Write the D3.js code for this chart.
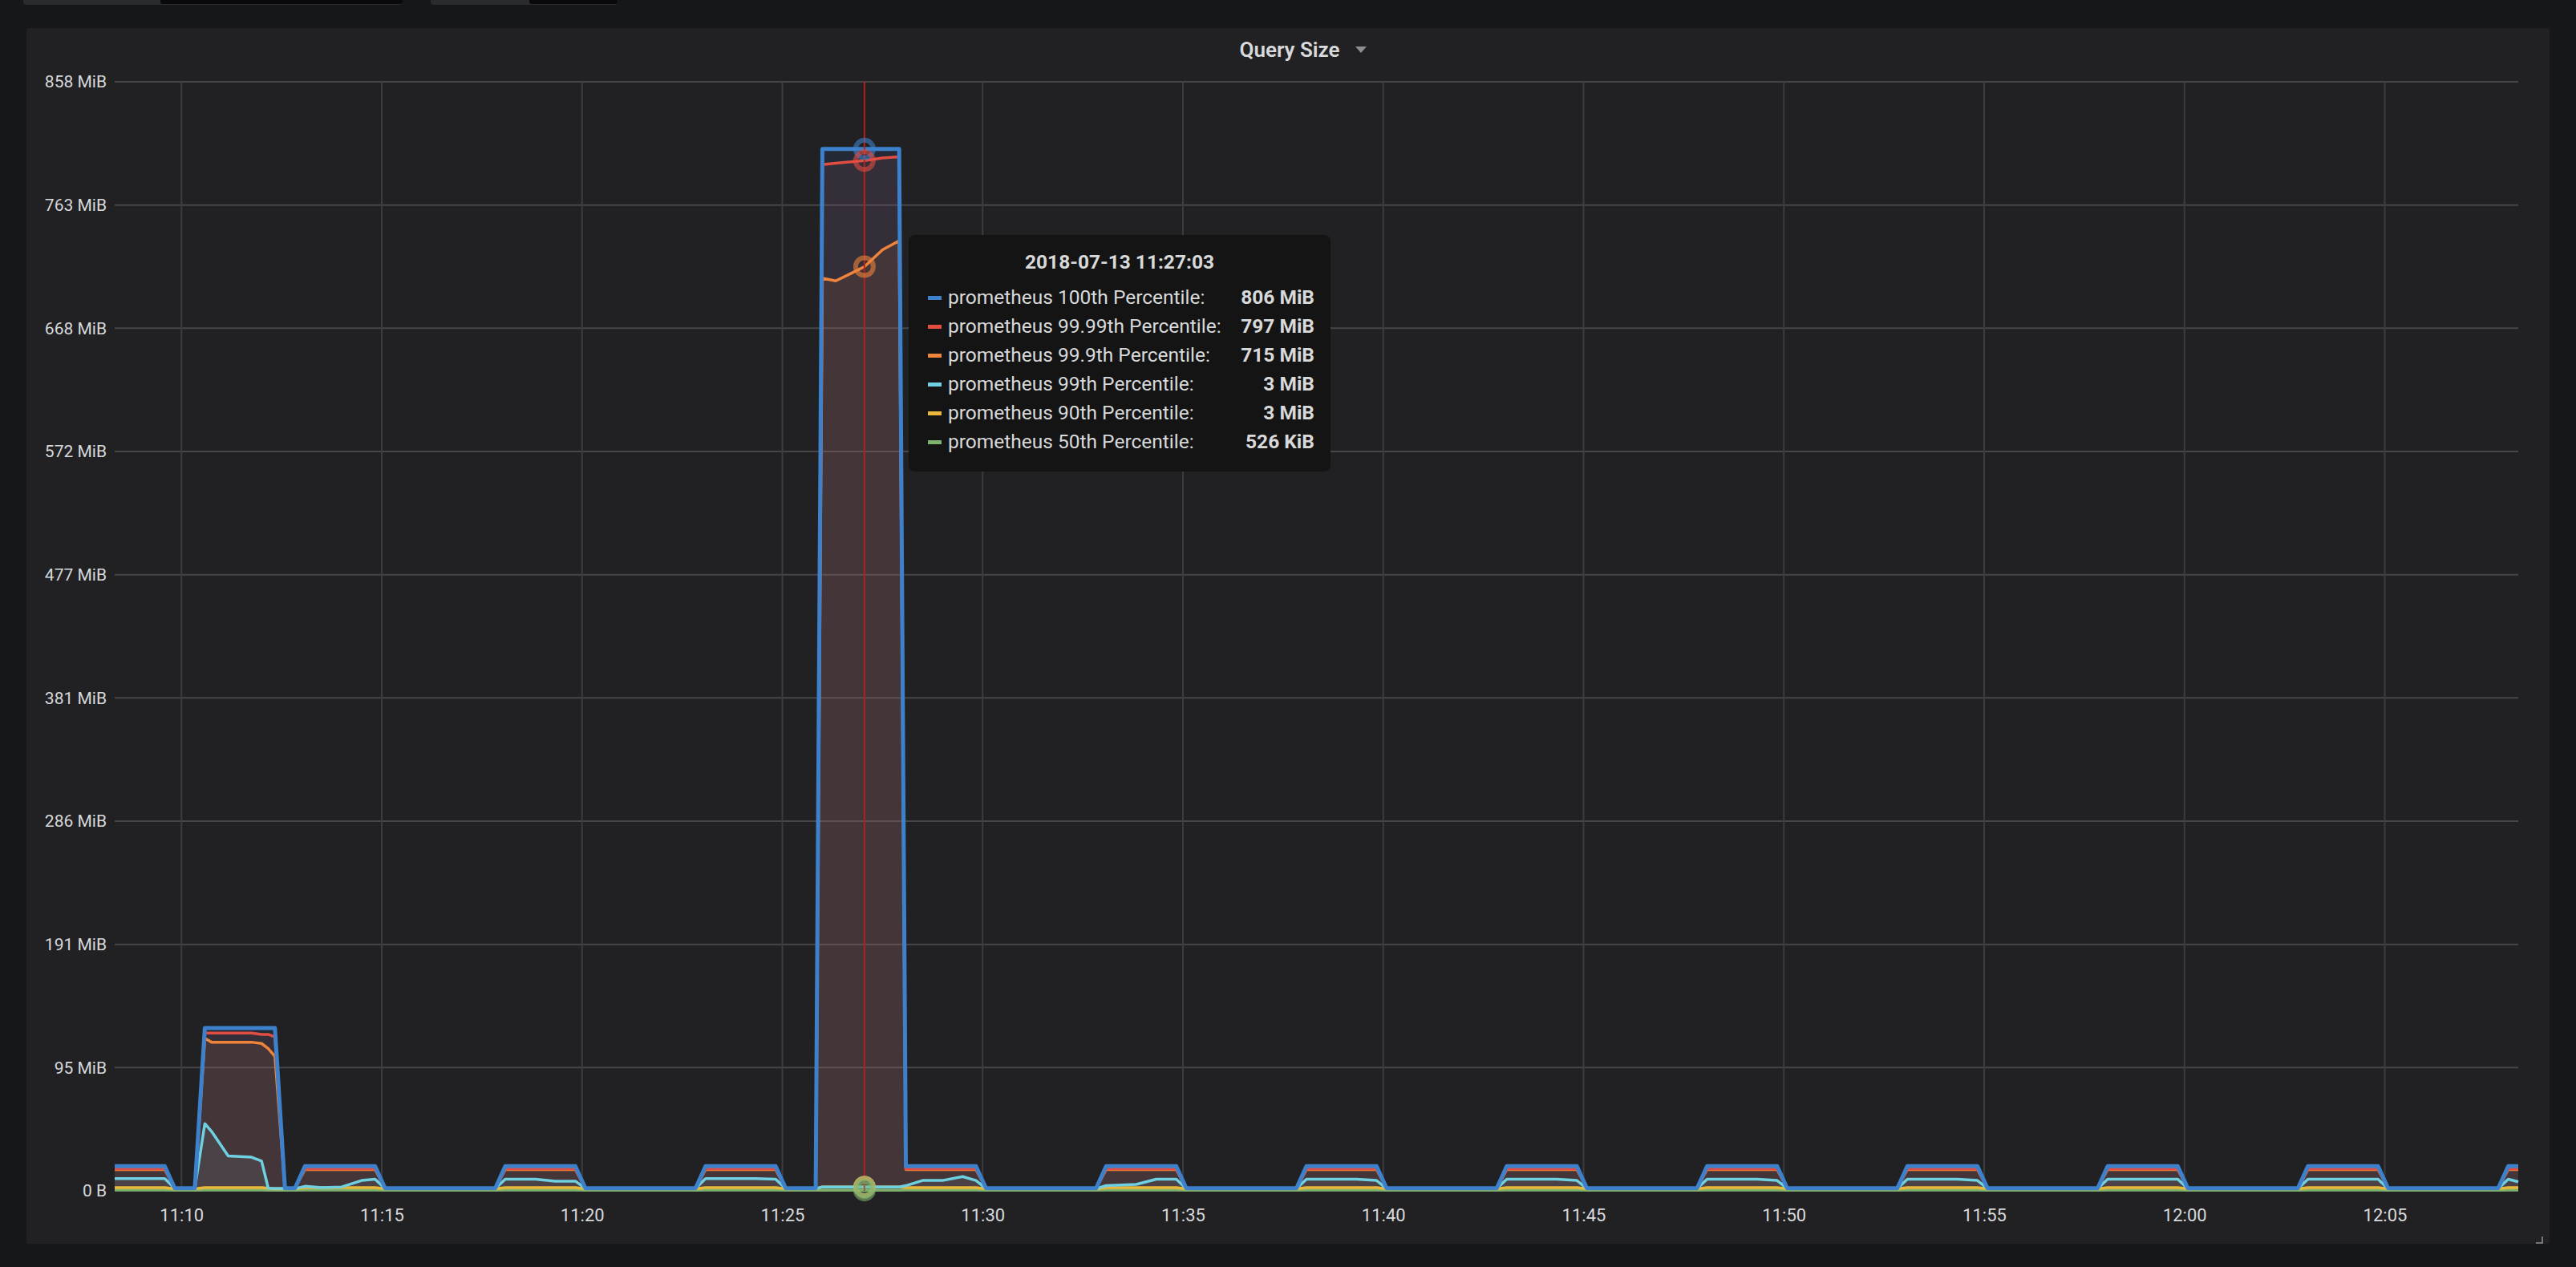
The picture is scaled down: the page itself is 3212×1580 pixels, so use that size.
<!DOCTYPE html>
<html>
<head>
<meta charset="utf-8">
<script src="https://cdn.jsdelivr.net/npm/d3@7"></script>
<style>
  body { margin: 0; background: #161719; font-family: Roboto, "Open Sans", sans-serif; }
  svg { display: block; }
</style>
</head>
<body>
<svg id="chart"></svg>
<script>
// sample times (shared by all series)
const times = [
  "11:08:20","11:09:35","11:09:50","11:10:20","11:10:35","11:10:45","11:11:10","11:11:45","11:12:00","11:12:10",
  "11:12:20","11:12:35","11:12:50","11:13:05","11:13:30","11:14:00","11:14:30","11:14:50","11:15:05",
  "11:17:50","11:18:05","11:18:50","11:19:20","11:19:50","11:20:05",
  "11:22:50","11:23:05","11:23:50","11:24:20","11:24:50","11:25:05",
  "11:25:50","11:26:00","11:26:20","11:26:40","11:27:03","11:27:30","11:27:55","11:28:05",
  "11:28:30","11:29:00","11:29:30","11:29:50","11:30:05",
  "11:32:50","11:33:05","11:33:50","11:34:20","11:34:50","11:35:05",
  "11:37:50","11:38:05","11:38:50","11:39:20","11:39:50","11:40:05",
  "11:42:50","11:43:05","11:43:50","11:44:20","11:44:50","11:45:05",
  "11:47:50","11:48:05","11:48:50","11:49:20","11:49:50","11:50:05",
  "11:52:50","11:53:05","11:53:50","11:54:20","11:54:50","11:55:05",
  "11:57:50","11:58:05","11:58:50","11:59:20","11:59:50","12:00:05",
  "12:02:50","12:03:05","12:03:50","12:04:20","12:04:50","12:05:05",
  "12:07:50","12:08:05","12:08:20"
];

// values in MiB
const p100 = [
  19,19,2,2,126,126,126,126,126,126,126,2,2,19,19,19,19,19,2,
  2,19,19,19,19,2,
  2,19,19,19,19,2,
  2,806,806,806,806,806,806,19,
  19,19,19,19,2,
  2,19,19,19,19,2, 2,19,19,19,19,2, 2,19,19,19,19,2, 2,19,19,19,19,2,
  2,19,19,19,19,2, 2,19,19,19,19,2, 2,19,19,19,19,2,
  2,19,19
];
const p9999 = [
  17,17,2,2,122,122,122,122,121,121,119,2,2,17,17,17,17,17,2,
  2,17,17,17,17,2,
  2,17,17,17,17,2,
  2,794,795,796,797,799,800,17,
  17,17,17,17,2,
  2,17,17,17,17,2, 2,17,17,17,17,2, 2,17,17,17,17,2, 2,17,17,17,17,2,
  2,17,17,17,17,2, 2,17,17,17,17,2, 2,17,17,17,17,2,
  2,17,17
];
const p999 = [
  16.5,16.5,2,2,118,115,115,115,114,110,104,2,2,16.5,16.5,16.5,16.5,16.5,2,
  2,16.5,16.5,16.5,16.5,2,
  2,16.5,16.5,16.5,16.5,2,
  2,706,704,709,715,728,735,16.5,
  16.5,16.5,16.5,16.5,2,
  2,16.5,16.5,16.5,16.5,2, 2,16.5,16.5,16.5,16.5,2, 2,16.5,16.5,16.5,16.5,2, 2,16.5,16.5,16.5,16.5,2,
  2,16.5,16.5,16.5,16.5,2, 2,16.5,16.5,16.5,16.5,2, 2,16.5,16.5,16.5,16.5,2,
  2,16.5,16.5
];
const p99 = [
  9.5,9.5,1.8,1.8,52,46,27,26,23,2,1.8,1.8,1.8,3.5,2.5,3,8,9,1.8,
  1.8,9,9,7.5,7.5,1.8,
  1.8,9.5,9.5,9.5,9,1.8,
  1.8,3,3,3,3,3,3,4,
  8,8,11,8,1.8,
  1.8,4,5,9,9,1.8, 1.8,9,9,9,8,1.8, 1.8,9,9,9,8,1.8, 1.8,9,9,9,8,1.8,
  1.8,9,9,9,8,1.8, 1.8,9,9,9,9,1.8, 1.8,9,9,9,9,1.8,
  1.8,9,7
];
const p90 = [
  2.5,2.5,1.5,1.5,2.5,2.5,2.5,2.5,2.5,2,1.5,1.5,1.5,2.5,2.5,2.5,2.5,2.5,1.5,
  1.5,2.5,2.5,2.5,2.5,1.5,
  1.5,2.5,2.5,2.5,2.5,1.5,
  1.5,3,3,3,3,3,3,2.5,
  2.5,2.5,2.5,2.5,1.5,
  1.5,2.5,2.5,2.5,2.5,1.5, 1.5,2.5,2.5,2.5,2.5,1.5, 1.5,2.5,2.5,2.5,2.5,1.5, 1.5,2.5,2.5,2.5,2.5,1.5,
  1.5,2.5,2.5,2.5,2.5,1.5, 1.5,2.5,2.5,2.5,2.5,1.5, 1.5,2.5,2.5,2.5,2.5,1.5,
  1.5,2.5,2.5
];
const p50 = [
  0.6,0.6,0.5,0.5,0.6,0.6,0.6,0.6,0.6,0.5,0.5,0.5,0.5,0.6,0.6,0.6,0.6,0.6,0.5,
  0.5,0.6,0.6,0.6,0.6,0.5,
  0.5,0.6,0.6,0.6,0.6,0.5,
  0.5,0.51,0.51,0.51,0.51,0.51,0.51,0.6,
  0.6,0.6,0.6,0.6,0.5,
  0.5,0.6,0.6,0.6,0.6,0.5, 0.5,0.6,0.6,0.6,0.6,0.5, 0.5,0.6,0.6,0.6,0.6,0.5, 0.5,0.6,0.6,0.6,0.6,0.5,
  0.5,0.6,0.6,0.6,0.6,0.5, 0.5,0.6,0.6,0.6,0.6,0.5, 0.5,0.6,0.6,0.6,0.6,0.5,
  0.5,0.6,0.6
];

const seriesNames = ["prometheus 100th Percentile:", "prometheus 99.99th Percentile:", "prometheus 99.9th Percentile:",
  "prometheus 99th Percentile:", "prometheus 90th Percentile:", "prometheus 50th Percentile:"];
const seriesColors = ["#3d80cc", "#e24d42", "#ef843c", "#6ed0e0", "#eab839", "#7eb26d"];
const seriesValues = [p100, p9999, p999, p99, p90, p50];
const tooltipValues = ["806 MiB", "797 MiB", "715 MiB", "3 MiB", "3 MiB", "526 KiB"];
const tooltipTitle = "2018-07-13 11:27:03";
const hoverTime = "11:27:03";
const yTickLabels = ["0 B","95 MiB","191 MiB","286 MiB","381 MiB","477 MiB","572 MiB","668 MiB","763 MiB","858 MiB"];
const yMax = 858;
const xStart = "11:08:20", xEnd = "12:08:20";

const W = 3212, H = 1580;
const parse = d3.timeParse("%Y-%m-%d %H:%M:%S");
const t = s => parse("2018-07-13 " + s);

const svg = d3.select("#chart").attr("width", W).attr("height", H);

// top controls (cut off)
svg.append("rect").attr("x", 29).attr("y", -8).attr("width", 473).attr("height", 14).attr("rx", 4).attr("fill", "#2a2b2e");
svg.append("rect").attr("x", 200).attr("y", -8).attr("width", 302).attr("height", 13).attr("rx", 3).attr("fill", "#09090b");
svg.append("rect").attr("x", 537).attr("y", -8).attr("width", 233).attr("height", 14).attr("rx", 4).attr("fill", "#2a2b2e");
svg.append("rect").attr("x", 660).attr("y", -8).attr("width", 110).attr("height", 13).attr("rx", 3).attr("fill", "#09090b");

// panel
svg.append("rect").attr("x", 33).attr("y", 35).attr("width", 3146).attr("height", 1516).attr("rx", 3).attr("fill", "#212124");

svg.append("text").attr("x", 1608).attr("y", 71).attr("text-anchor", "middle")
  .attr("fill", "#d8d9da").attr("font-size", 26).attr("font-weight", 600).text("Query Size");
svg.append("path").attr("d", "M1690,58 l14,0 l-7,8 z").attr("fill", "#8e8e8e");

const m = { left: 143, right: 3140, top: 102, bottom: 1485 };
const x = d3.scaleTime().domain([t(xStart), t(xEnd)]).range([m.left, m.right]);
const y = d3.scaleLinear().domain([0, yMax]).range([m.bottom, m.top]);
const yTicks = yTickLabels.map((_, i) => i * yMax / 9);

// grid
const g = svg.append("g");
g.selectAll("line.h").data(yTicks).join("line")
  .attr("x1", m.left).attr("x2", m.right).attr("y1", d => y(d)).attr("y2", d => y(d))
  .attr("stroke", "#464649").attr("stroke-width", 2);
const xTicks = x.ticks(d3.timeMinute.every(5));
g.selectAll("line.v").data(xTicks).join("line")
  .attr("x1", d => x(d)).attr("x2", d => x(d)).attr("y1", m.top).attr("y2", m.bottom)
  .attr("stroke", "#3c3c3f").attr("stroke-width", 2);

// axes labels
const yAxis = svg.append("g").attr("transform", `translate(${m.left},0)`)
  .call(d3.axisLeft(y).tickValues(yTicks).tickSize(0).tickPadding(10).tickFormat((d, i) => yTickLabels[i]));
yAxis.select(".domain").remove();
yAxis.selectAll("text").attr("fill", "#d8d9da").attr("font-size", 21).attr("font-family", "Roboto, sans-serif");

const xAxis = svg.append("g").attr("transform", `translate(0,${m.bottom})`)
  .call(d3.axisBottom(x).tickValues(xTicks).tickSize(0).tickPadding(22).tickFormat(d3.timeFormat("%H:%M")));
xAxis.select(".domain").remove();
xAxis.selectAll("text").attr("fill", "#d8d9da").attr("font-size", 22).attr("font-family", "Roboto, sans-serif");

// series
const series = seriesValues.map((vals, i) => ({
  color: seriesColors[i],
  pts: times.map((s, j) => ({ t: t(s), v: vals[j] }))
}));
const area = d3.area().x(d => x(d.t)).y0(y(0)).y1(d => y(d.v));
const line = d3.line().x(d => x(d.t)).y(d => y(d.v));
const order = series.slice().reverse();
svg.append("g").selectAll("path").data(order).join("path")
  .attr("d", d => area(d.pts)).attr("fill", d => d.color).attr("fill-opacity", 0.1);
svg.append("g").selectAll("path").data(order).join("path")
  .attr("d", d => line(d.pts)).attr("fill", "none").attr("stroke", d => d.color)
  .attr("stroke-width", (d, i) => i === order.length - 1 ? 5 : 3.5).attr("stroke-linejoin", "round");

// crosshair + hover markers
const hx = x(t(hoverTime));
svg.append("line").attr("x1", hx).attr("x2", hx).attr("y1", m.top).attr("y2", m.bottom)
  .attr("stroke", "#b3211c").attr("stroke-width", 2);
const hoverVals = [806, 797, 715, 3, 3, 0.51];
svg.append("g").selectAll("circle").data(hoverVals).join("circle")
  .attr("cx", hx).attr("cy", d => y(d)).attr("r", 11)
  .attr("fill", (d, i) => i === 5 ? seriesColors[i] : "none").attr("fill-opacity", 0.4)
  .attr("stroke", (d, i) => seriesColors[i]).attr("stroke-opacity", 0.6).attr("stroke-width", 6);

// tooltip
const tip = svg.append("g").attr("transform", "translate(1133,293)");
tip.append("rect").attr("width", 526).attr("height", 295).attr("rx", 8).attr("fill", "#141414");
tip.append("text").attr("x", 263).attr("y", 42).attr("text-anchor", "middle").attr("fill", "#d8d9da")
  .attr("font-size", 24.5).attr("font-weight", 700).text(tooltipTitle);
const rows = tip.selectAll("g.row").data(seriesNames).join("g").attr("class", "row")
  .attr("transform", (d, i) => `translate(0,${86 + i * 36})`);
rows.append("rect").attr("x", 24).attr("y", -10).attr("width", 17).attr("height", 5).attr("fill", (d, i) => seriesColors[i]);
rows.append("text").attr("x", 49).attr("fill", "#d8d9da").attr("font-size", 24.5).text(d => d);
rows.append("text").attr("x", 506).attr("text-anchor", "end").attr("fill", "#d8d9da").attr("font-size", 24.5)
  .attr("font-weight", 700).text((d, i) => tooltipValues[i]);

// resize handle
svg.append("path").attr("d", "M3170,1542 l0,8 l-8,0").attr("fill", "none").attr("stroke", "#777").attr("stroke-width", 2);
</script>
</body>
</html>
